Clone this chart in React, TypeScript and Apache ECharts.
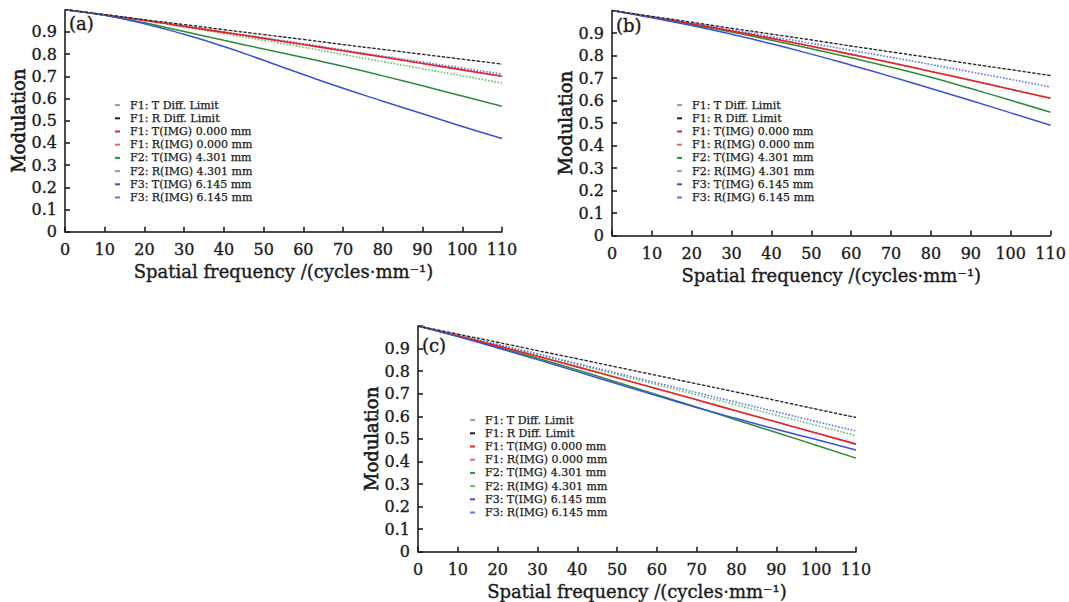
import React, { useEffect, useRef } from "react";
import * as echarts from "echarts";

const freq = [0, 10, 20, 30, 40, 50, 60, 70, 80, 90, 100, 110];
const yTickLabels = ["0", "0.1", "0.2", "0.3", "0.4", "0.5", "0.6", "0.7", "0.8", "0.9"];
const seriesNames = [
  "F1: T Diff. Limit",
  "F1: R Diff. Limit",
  "F1: T(IMG) 0.000 mm",
  "F1: R(IMG) 0.000 mm",
  "F2: T(IMG) 4.301 mm",
  "F2: R(IMG) 4.301 mm",
  "F3: T(IMG) 6.145 mm",
  "F3: R(IMG) 6.145 mm",
];
const panelLabels = ["(a)", "(b)", "(c)"];

// Panel (a)
const diffA = [1, 0.978, 0.955, 0.933, 0.91, 0.888, 0.866, 0.843, 0.821, 0.799, 0.777, 0.755];
const f1A = [1, 0.977, 0.952, 0.925, 0.898, 0.871, 0.843, 0.815, 0.787, 0.758, 0.729, 0.7];
const f2TA = [1, 0.975, 0.941, 0.902, 0.862, 0.823, 0.785, 0.745, 0.702, 0.657, 0.611, 0.565];
const f2RA = [1, 0.977, 0.951, 0.922, 0.892, 0.862, 0.831, 0.798, 0.766, 0.734, 0.702, 0.67];
const f3TA = [1, 0.975, 0.937, 0.889, 0.834, 0.772, 0.708, 0.646, 0.588, 0.531, 0.474, 0.42];
const f3RA = [1, 0.977, 0.953, 0.927, 0.9, 0.874, 0.847, 0.819, 0.791, 0.764, 0.737, 0.71];

// Panel (b)
const diffB = [1, 0.974, 0.948, 0.921, 0.895, 0.869, 0.842, 0.816, 0.79, 0.763, 0.737, 0.711];
const f1B = [1, 0.971, 0.941, 0.909, 0.876, 0.841, 0.805, 0.768, 0.729, 0.69, 0.65, 0.61];
const f2TB = [1, 0.97, 0.938, 0.904, 0.868, 0.83, 0.79, 0.748, 0.703, 0.653, 0.601, 0.548];
const f2RB = [1, 0.971, 0.941, 0.909, 0.876, 0.841, 0.805, 0.768, 0.729, 0.69, 0.65, 0.61];
const f3TB = [1, 0.968, 0.933, 0.894, 0.852, 0.806, 0.757, 0.706, 0.653, 0.6, 0.545, 0.49];
const f3RB = [1, 0.972, 0.944, 0.914, 0.884, 0.854, 0.823, 0.792, 0.76, 0.727, 0.694, 0.66];

// Panel (c)
const diffC = [1, 0.964, 0.928, 0.891, 0.855, 0.818, 0.781, 0.744, 0.707, 0.67, 0.632, 0.595];
const f1C = [1, 0.957, 0.912, 0.866, 0.819, 0.771, 0.722, 0.673, 0.624, 0.575, 0.526, 0.477];
const f2TC = [1, 0.955, 0.907, 0.857, 0.805, 0.751, 0.696, 0.64, 0.584, 0.528, 0.472, 0.415];
const f2RC = [1, 0.958, 0.916, 0.873, 0.829, 0.785, 0.74, 0.695, 0.65, 0.605, 0.56, 0.515];
const f3TC = [1, 0.953, 0.903, 0.851, 0.798, 0.744, 0.691, 0.639, 0.59, 0.543, 0.497, 0.451];
const f3RC = [1, 0.96, 0.919, 0.877, 0.834, 0.791, 0.748, 0.705, 0.662, 0.62, 0.577, 0.535];

const panels = [
  { diffT: diffA, diffR: diffA, f1T: f1A, f1R: f1A, f2T: f2TA, f2R: f2RA, f3T: f3TA, f3R: f3RA },
  { diffT: diffB, diffR: diffB, f1T: f1B, f1R: f1B, f2T: f2TB, f2R: f2RB, f3T: f3TB, f3R: f3RB },
  { diffT: diffC, diffR: diffC, f1T: f1C, f1R: f1C, f2T: f2TC, f2R: f2RC, f3T: f3TC, f3R: f3RC },
];

const FONT = "DejaVu Serif";
const INK = "#1a1a1a";
const heavy = { textBorderColor: INK, textBorderWidth: 0.35 };

export default function App() {
  const ref = useRef<HTMLDivElement>(null);
  useEffect(() => {
    if (!ref.current) return;
    const chart = echarts.init(ref.current, undefined, { renderer: "svg" });

    const grids = [
      { left: 65, top: 9.7, width: 437, height: 222 },
      { left: 612, top: 10.5, width: 440, height: 225 },
      { left: 418, top: 326, width: 438, height: 226 },
    ];
    const legendPos = [
      { left: 115, top: 98.5 },
      { left: 677, top: 98.5 },
      { left: 470, top: 413.5 },
    ];
    const labelPos = [
      { x: 69, y: 23 },
      { x: 616, y: 25 },
      { x: 422, y: 345 },
    ];

    const styles: any[] = [
      { color: "#9a9a9a", type: "dotted", width: 1.2 },
      { color: "#222222", type: [3, 2], width: 1.3 },
      { color: "#e3232a", type: "solid", width: 1.6 },
      { color: "#f06262", type: "dotted", width: 1.6 },
      { color: "#2f8a38", type: "solid", width: 1.5 },
      { color: "#69bd69", type: "dotted", width: 1.6 },
      { color: "#3651d4", type: "solid", width: 1.5 },
      { color: "#5a78e6", type: "dotted", width: 1.6 },
    ];
    // draw order: dotted first, then solids, diff limits last
    const order = [5, 7, 3, 4, 2, 6, 0, 1];

    const series: any[] = [];
    panels.forEach((p, gi) => {
      const arrs = [p.diffT, p.diffR, p.f1T, p.f1R, p.f2T, p.f2R, p.f3T, p.f3R];
      order.forEach((k) => {
        series.push({
          name: seriesNames[k],
          type: "line",
          xAxisIndex: gi,
          yAxisIndex: gi,
          showSymbol: false,
          symbol: "none",
          smooth: 0.5,
          data: freq.map((f, i) => [f, arrs[k][i]]),
          lineStyle: styles[k],
          itemStyle: { color: styles[k].color },
          z: 2 + order.indexOf(k) * 0.1,
        });
      });
    });

    const option: any = {
      animation: false,
      backgroundColor: "#ffffff",
      grid: grids.map((g) => ({ ...g, containLabel: false })),
      xAxis: grids.map((_, gi) => ({
        type: "value",
        gridIndex: gi,
        min: 0,
        max: 110,
        interval: 10,
        name: "Spatial frequency /(cycles·mm⁻¹)",
        nameLocation: "middle",
        nameGap: 31,
        nameTextStyle: { fontFamily: FONT, fontSize: 18, color: INK, ...heavy },
        axisLine: { lineStyle: { color: "#111", width: 1.5 } },
        axisTick: { inside: true, length: 5, lineStyle: { color: "#111", width: 1.5 } },
        axisLabel: { fontFamily: FONT, fontSize: 16, color: INK, margin: 10, ...heavy },
        splitLine: { show: false },
      })),
      yAxis: grids.map((_, gi) => ({
        type: "value",
        gridIndex: gi,
        min: 0,
        max: 1,
        interval: 0.1,
        name: "Modulation",
        nameLocation: "middle",
        nameGap: 37,
        nameTextStyle: { fontFamily: FONT, fontSize: 18, color: INK, textBorderColor: INK, textBorderWidth: 0.6 },
        axisLine: { show: true, lineStyle: { color: "#111", width: 1.5 } },
        axisTick: { inside: true, length: 5, lineStyle: { color: "#111", width: 1.5 } },
        axisLabel: {
          fontFamily: FONT,
          fontSize: 16,
          color: INK,
          margin: 8,
          ...heavy,
          formatter: (v: number) => {
            const idx = Math.round(v * 10);
            return idx < yTickLabels.length ? yTickLabels[idx] : "";
          },
        },
        splitLine: { show: false },
      })),
      legend: legendPos.map((lp) => ({
        ...lp,
        orient: "vertical",
        data: seriesNames,
        icon: "rect",
        itemWidth: 5,
        itemHeight: 2,
        itemGap: 0,
        selectedMode: false,
        padding: 0,
        textStyle: {
          fontFamily: FONT,
          fontSize: 11,
          color: INK,
          lineHeight: 13.2,
          padding: [0, 0, 0, 5],
          textBorderColor: INK,
          textBorderWidth: 0.25,
        },
      })),
      graphic: labelPos.map((lp, i) => ({
        type: "text",
        x: lp.x,
        y: lp.y,
        style: {
          text: panelLabels[i],
          fontFamily: FONT,
          fontSize: 18,
          fill: INK,
          stroke: INK,
          lineWidth: 0.35,
          verticalAlign: "middle",
          align: "left",
        },
      })),
      series,
    };
    chart.setOption(option);
    return () => chart.dispose();
  }, []);

  return (
    <div
      ref={ref}
      style={{ position: "absolute", left: 0, top: 0, width: 1069, height: 602, background: "#fff" }}
    />
  );
}
